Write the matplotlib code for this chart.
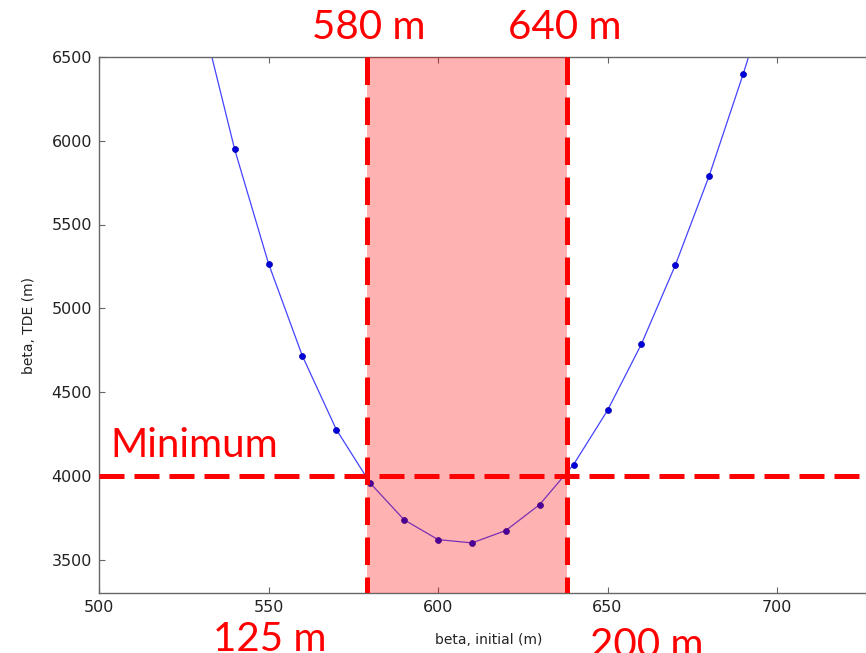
import numpy as np
import matplotlib.pyplot as plt

# beta sweep: initial value vs. resulting TDE
beta_init = [530, 540, 550, 560, 570, 580, 590, 600, 610, 620, 630, 640, 650, 660, 670, 680, 690, 700]
beta_tde = [6770, 5950, 5267, 4715, 4276, 3956, 3737, 3619, 3599, 3673, 3828, 4067, 4390, 4786, 5257, 5791, 6397, 7040]

band_lo = 579
band_hi = 638
tde_min = 4000

W, H = 866, 653
fig = plt.figure(figsize=(W / 100, H / 100), dpi=100)
ax = fig.add_axes([99 / W, 60 / H, (878.7 - 99) / W, (593 - 57) / H])

ax.plot(beta_init, beta_tde, '-', color='#4444ff', lw=0.9, zorder=2)
ax.plot(beta_init, beta_tde, 'o', color='#0000dd', ms=4.3, mec='#0000aa', mew=0.5, zorder=2)

ymin, ymax = 3300, 6500

# shaded window sits on top of the curve
ax.axvspan(band_lo, band_hi, color='red', alpha=0.3, lw=0, zorder=3)
for xv in (band_lo, band_hi):
    ax.plot([xv, xv], [ymax, ymin], color='red', lw=3.6, ls='--', dashes=(5.5, 2.5),
            solid_capstyle='butt', dash_capstyle='butt', zorder=4)
ax.axhline(tde_min, color='red', lw=3.6, ls='--', dashes=(5, 2), zorder=4)

ax.set_xlim(500, 730)
ax.set_ylim(ymin, ymax)
ax.set_xticks([500, 550, 600, 650, 700])
ax.set_yticks([3500, 4000, 4500, 5000, 5500, 6000, 6500])
ax.tick_params(direction='in', top=True, right=True, length=4, width=0.8,
               color='0.4', labelsize=11.5, labelcolor='#222222', pad=5)
for s in ax.spines.values():
    s.set_color('0.4')
    s.set_linewidth(1.0)

ax.set_xlabel('beta, initial (m)', fontsize=10, color='#222222', labelpad=13)
ax.set_ylabel('beta, TDE (m)', fontsize=10, color='#222222', labelpad=11)

# red annotations
red_font = dict(color='red', fontsize=29, family=['Lato', 'DejaVu Sans'], va='baseline', ha='left')
fig.text(312 / W, 1 - 39 / H, '580 m', **red_font)
fig.text(508 / W, 1 - 39 / H, '640 m', **red_font)
fig.text(110 / W, 1 - 457 / H, 'Minimum', **red_font)
fig.text(213 / W, 1 - 651 / H, '125 m', **red_font)
fig.text(590 / W, 1 - 657 / H, '200 m', **red_font)

fig.savefig('out.png', dpi=100)
